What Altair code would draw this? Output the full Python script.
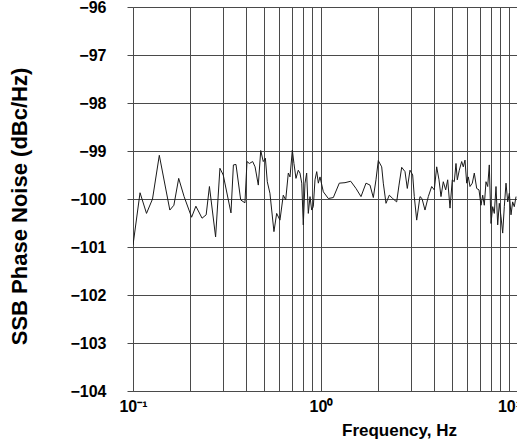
import altair as alt
import pandas as pd

# Frequency (Hz) and SSB phase noise (dBc/Hz)
freq_hz = [
    0.100, 0.109, 0.118, 0.127, 0.138, 0.157, 0.165, 0.175, 0.187, 0.205,
    0.216, 0.233, 0.245, 0.255, 0.275, 0.290, 0.302, 0.332, 0.342, 0.353,
    0.374, 0.394, 0.404, 0.416, 0.433, 0.446, 0.464, 0.478, 0.493, 0.506,
    0.518, 0.535, 0.562, 0.581, 0.605, 0.630, 0.649, 0.670, 0.684, 0.704,
    0.718, 0.736, 0.757, 0.773, 0.790, 0.805, 0.822, 0.839, 0.856, 0.874,
    0.892, 0.910, 0.929, 0.949, 0.968, 0.988, 1.029, 1.094, 1.163, 1.251,
    1.342, 1.439, 1.535, 1.632, 1.735, 1.822, 1.898, 1.961, 2.017, 2.103,
    2.145, 2.217, 2.308, 2.406, 2.527, 2.600, 2.687, 2.798, 2.878, 2.974,
    3.074, 3.135, 3.229, 3.362, 3.445, 3.574, 3.722, 3.880, 4.005, 4.125,
    4.243, 4.348, 4.472, 4.606, 4.720, 4.855, 4.993, 5.117, 5.225, 5.309,
    5.440, 5.603, 5.713, 5.834, 5.957, 6.075, 6.202, 6.380, 6.538, 6.733,
    6.925, 7.097, 7.246, 7.390, 7.545, 7.704, 7.856, 8.022, 8.191, 8.353,
    8.529, 8.708, 8.880, 9.067, 9.258, 9.441, 9.640, 9.843, 10.04, 10.25,
    10.46, 10.67, 10.90,
]
noise_dbc = [
    -100.96, -99.87, -100.30, -100.00, -99.09, -100.23, -100.13, -99.57, -99.95, -100.38,
    -100.15, -100.40, -100.33, -99.74, -100.79, -99.36, -99.50, -100.29, -99.29, -99.28,
    -100.02, -100.08, -99.22, -99.26, -99.22, -99.33, -99.71, -98.99, -99.22, -99.15,
    -99.64, -99.88, -100.68, -100.30, -100.44, -99.92, -100.02, -99.46, -99.54, -98.98,
    -99.26, -99.57, -99.40, -99.46, -99.67, -100.54, -99.67, -99.46, -100.30, -99.95,
    -100.23, -100.16, -99.60, -99.43, -99.67, -99.54, -99.85, -99.99, -99.97, -99.67,
    -99.66, -99.63, -99.78, -99.95, -99.67, -99.71, -99.97, -99.60, -99.20, -99.33,
    -99.67, -100.09, -99.92, -99.99, -100.06, -99.71, -99.34, -99.43, -99.78, -99.40,
    -99.50, -99.95, -100.44, -99.95, -99.99, -100.23, -99.95, -99.74, -99.81, -99.33,
    -99.60, -99.95, -99.64, -99.81, -99.60, -100.19, -99.60, -99.64, -99.26, -99.60,
    -99.40, -99.22, -99.33, -99.19, -99.67, -99.54, -99.74, -99.67, -99.46, -99.78,
    -99.81, -100.13, -99.92, -100.13, -99.64, -99.74, -99.29, -100.51, -100.16, -100.30,
    -99.74, -100.54, -100.09, -100.37, -100.71, -100.16, -99.67, -100.06, -99.88, -100.33,
    -100.06, -100.16, -99.95,
]

x_grid = [0.1, 0.2, 0.3, 0.4, 0.5, 0.6, 0.7, 0.8, 0.9,
          1, 2, 3, 4, 5, 6, 7, 8, 9, 10]
y_ticks = [-104, -103, -102, -101, -100, -99, -98, -97, -96]
x_domain = [0.1, 11.03]
y_domain = [-104, -96]

df = pd.DataFrame({"freq": freq_hz, "noise": noise_dbc})

label_expr = (
    "datum.value < 0.15 ? '10⁻¹' : "
    "(datum.value > 0.95 && datum.value < 1.05) ? '10⁰' : "
    "(datum.value > 9.5) ? '10¹' : ''"
)

FONT = "Liberation Sans"
GRID = "#4a4a4a"

chart = alt.Chart(df).mark_line(
    color="#1a1a1a", strokeWidth=1, clip=True
).encode(
    x=alt.X(
        "freq:Q",
        scale=alt.Scale(type="log", domain=x_domain, nice=False),
        axis=alt.Axis(
            values=x_grid,
            labelExpr=label_expr,
            grid=True,
            gridColor=GRID,
            gridWidth=1,
            gridOpacity=1,
            ticks=False,
            domain=True,
            domainColor=GRID,
            labelFont=FONT,
            labelFontWeight="bold",
            labelFontSize=16,
            labelColor="#000000",
            labelPadding=7,
            labelFlush=False,
            labelOverlap=False,
            title="Frequency, Hz",
            titleFont=FONT,
            titleFontWeight="bold",
            titleFontSize=17,
            titleColor="#000000",
            titleX=266,
            titleY=44,
            titleAlign="center",
            titleBaseline="alphabetic",
        ),
    ),
    y=alt.Y(
        "noise:Q",
        scale=alt.Scale(domain=y_domain, nice=False, zero=False),
        axis=alt.Axis(
            values=y_ticks,
            format="d",
            grid=True,
            gridColor=GRID,
            gridWidth=1,
            gridOpacity=1,
            ticks=True,
            tickSize=6,
            tickColor=GRID,
            domain=True,
            domainColor=GRID,
            labelFont=FONT,
            labelFontWeight="bold",
            labelFontSize=16,
            labelColor="#000000",
            labelPadding=21,
            labelOverlap=False,
            title="SSB Phase Noise (dBc/Hz)",
            titleFont=FONT,
            titleFontWeight="bold",
            titleFontSize=22,
            titleColor="#000000",
            titleAngle=270,
            titleX=-114,
            titleY=199,
            titleAlign="center",
            titleBaseline="middle",
        ),
    ),
).properties(
    width=384,
    height=384,
    autosize=alt.AutoSizeParams(type="none"),
    padding={"left": 133, "top": 7, "right": 0, "bottom": 52},
    background="#ffffff",
).configure_view(strokeWidth=0)

chart.save("out.html", embed_options={"renderer": "svg", "actions": False})
